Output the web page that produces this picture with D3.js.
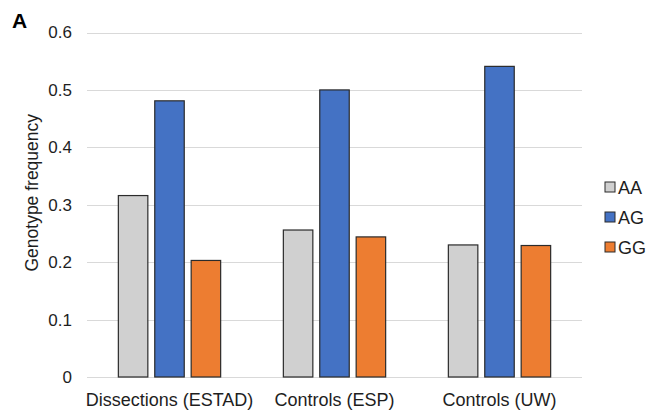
<!DOCTYPE html>
<html>
<head>
<meta charset="utf-8">
<script src="https://cdn.jsdelivr.net/npm/d3@7"></script>
<style>
  html, body { margin: 0; padding: 0; background: #fff; }
  text { font-family: "Liberation Sans", Arial, sans-serif; fill: #1e1e1e; }
</style>
</head>
<body>
<svg id="chart" width="656" height="412"></svg>
<script>
const categories = ["Dissections (ESTAD)", "Controls (ESP)", "Controls (UW)"];
const seriesNames = ["AA", "AG", "GG"];
const AA = [0.316, 0.256, 0.230];
const AG = [0.481, 0.500, 0.541];
const GG = [0.203, 0.244, 0.229];
const yTicks = [0, 0.1, 0.2, 0.3, 0.4, 0.5, 0.6];
const colors = ["#d0d0d0", "#4472c4", "#ed7d31"];

const seriesValues = [AA, AG, GG];
const data = categories.map((c, i) => ({
  category: c,
  values: seriesNames.map((s, j) => ({ key: s, value: seriesValues[j][i], color: colors[j] }))
}));

const svg = d3.select("#chart");
const margin = { left: 87, right: 74, top: 32.5, bottom: 35 };
const W = 656, H = 412;

const x0 = d3.scaleBand().domain(categories)
  .range([margin.left, W - margin.right])
  .paddingInner(0.38).paddingOuter(0.19);
const x1 = d3.scaleBand().domain(seriesNames)
  .range([0, x0.bandwidth()])
  .paddingInner(0.19);
const y = d3.scaleLinear().domain([0, 0.6]).range([H - margin.bottom, margin.top]);

// gridlines
svg.append("g").selectAll("line").data(yTicks).join("line")
  .attr("x1", margin.left).attr("x2", W - margin.right)
  .attr("y1", d => Math.round(y(d)) + 0.5).attr("y2", d => Math.round(y(d)) + 0.5)
  .attr("stroke", "#d9d9d9").attr("stroke-width", 1.2);

// y axis labels
const yAxis = d3.axisLeft(y).tickValues(yTicks).tickSize(0).tickPadding(0)
  .tickFormat(d => d === 0 ? "0" : d3.format(".1f")(d));
const gy = svg.append("g").attr("transform", `translate(${margin.left - 15},0)`).call(yAxis);
gy.select(".domain").remove();
gy.selectAll("text").style("font-size", "17px").attr("fill", "#1e1e1e")
  .style("font-family", "'Liberation Sans', Arial, sans-serif");

// bars
const groups = svg.append("g").selectAll("g").data(data).join("g")
  .attr("transform", d => `translate(${x0(d.category)},0)`);
groups.selectAll("rect").data(d => d.values).join("rect")
  .attr("x", d => x1(d.key))
  .attr("y", d => y(d.value))
  .attr("width", x1.bandwidth())
  .attr("height", d => y(0) - y(d.value))
  .attr("fill", d => d.color)
  .attr("stroke", "#2b2b2b").attr("stroke-width", 1.2);

// x axis labels
const xAxis = d3.axisBottom(x0).tickSize(0).tickPadding(0);
const gx = svg.append("g").attr("transform", `translate(0,${y(0)})`).call(xAxis);
gx.select(".domain").remove();
gx.selectAll("text").attr("dy", null).attr("y", 29)
  .style("font-size", "18px").attr("fill", "#1e1e1e")
  .style("font-family", "'Liberation Sans', Arial, sans-serif");

// y title
svg.append("text")
  .attr("transform", `translate(38,${(y(0) + y(0.6)) / 2 - 12}) rotate(-90)`)
  .attr("text-anchor", "middle")
  .style("font-size", "17.5px")
  .text("Genotype frequency");

// panel label
svg.append("text").attr("x", 12).attr("y", 28)
  .style("font-size", "21px").style("font-weight", "bold").style("fill", "#000")
  .text("A");

// legend
const legend = svg.append("g").selectAll("g").data(seriesNames).join("g")
  .attr("transform", (d, i) => `translate(605,${187 + i * 30})`);
legend.append("rect").attr("x", 0).attr("y", -5).attr("width", 10).attr("height", 10)
  .attr("fill", (d, i) => colors[i]).attr("stroke", "#2b2b2b").attr("stroke-width", 1);
legend.append("text").attr("x", 13).attr("y", 6.5)
  .style("font-size", "18px").text(d => d);
</script>
</body>
</html>
